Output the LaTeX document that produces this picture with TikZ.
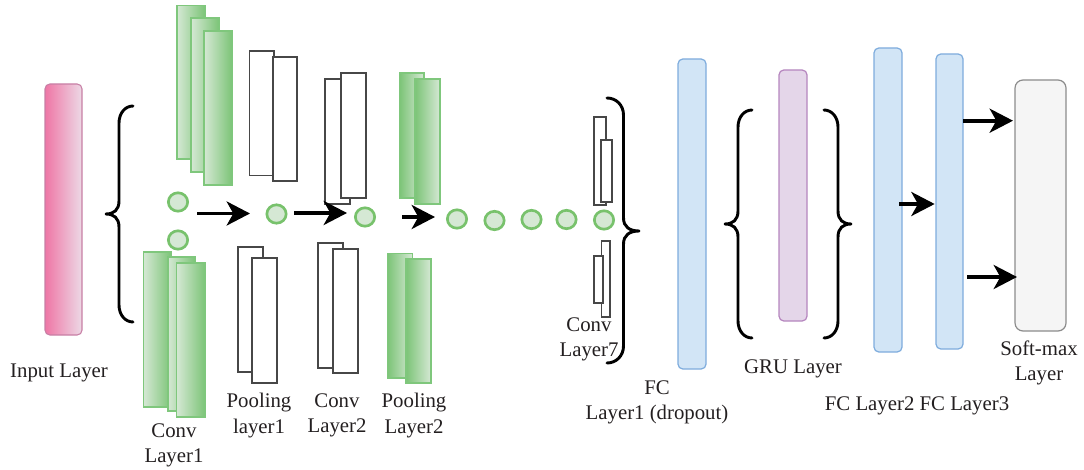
\documentclass[tikz,border=0pt]{standalone}
\usepackage{fontspec}
\setmainfont{Liberation Serif}
\usetikzlibrary{arrows.meta,shapes.geometric}
\definecolor{txt}{HTML}{231F20}
\definecolor{grL}{HTML}{D5E8D4}
\definecolor{grD}{HTML}{7CC477}
\definecolor{grE}{HTML}{7FC77C}
\definecolor{pink1}{HTML}{EE76A5}
\definecolor{pink2}{HTML}{EDD9E6}
\definecolor{pinkbd}{HTML}{C77FA5}
\definecolor{bluebd}{HTML}{7EACDD}
\definecolor{bluefl}{HTML}{D2E5F6}
\definecolor{purbd}{HTML}{B585BE}
\definecolor{purfl}{HTML}{E4D6E9}
\definecolor{dotbd}{HTML}{78C26C}
\tikzset{
  blockbase/.style={rectangle,inner sep=0pt,outer sep=0pt},
  green1/.style={blockbase,draw=grE,line width=1.1pt,left color=grL,right color=grD},
  green2/.style={blockbase,draw=grE,line width=1.1pt,left color=grD,right color=grL},
  plainbox/.style={blockbase,draw=black!72,line width=1.2pt,fill=white},
  thinbox/.style={blockbase,draw=black!72,line width=1pt,fill=white},
  inputbox/.style={blockbase,rounded corners=3.6pt,draw=pinkbd,line width=.8pt,left color=pink1,right color=pink2},
  fcbox/.style={blockbase,rounded corners=3.6pt,draw=bluebd,line width=.9pt,fill=bluefl},
  grubox/.style={blockbase,rounded corners=3.6pt,draw=purbd,line width=.9pt,fill=purfl},
  softbox/.style={blockbase,rounded corners=6pt,draw=black!45,line width=.9pt,fill=black!4},
  dot/.style={ellipse,inner sep=0pt,outer sep=0pt,draw=dotbd,line width=2pt,fill=grL,minimum width=14.5pt,minimum height=13.8pt},
  bigarrow/.style={draw=black,line width=2.8pt,-{Stealth[length=17.5pt,width=18pt,inset=5pt]}},
  brc/.style={draw=black,line width=2.2pt,line cap=round,line join=round},
  lbl/.style={inner sep=0pt,outer sep=0pt,text=txt,align=center,font=\fontsize{15.6}{19}\selectfont},
}
% [style]{name}{x1}{y1}{x2}{y2}
\newcommand{\blk}[6][]{%
  \pgfmathsetmacro{\blkw}{(#5-#3)*0.75}%
  \pgfmathsetmacro{\blkh}{(#6-#4)*0.75}%
  \node[#1,minimum width=\blkw pt,minimum height=\blkh pt] (#2) at ({(#3+#5)/2},{(#4+#6)/2}) {};}
% {tipx}{tipy}{spinex}{endx}{topy}{boty}
\newcommand{\bracepath}[6]{%
  \draw[brc] (#4,#5) .. controls ({#3+(#4-(#3))*0.45},#5) and ({#3},{#5+7}) .. ({#3},{#5+17})
    -- ({#3},{#2-13}) .. controls ({#3},{#2-4}) and ({#3+(#1-(#3))*0.4},#2) .. (#1,#2)
    .. controls ({#3+(#1-(#3))*0.4},#2) and ({#3},{#2+4}) .. ({#3},{#2+13})
    -- ({#3},{#6-17}) .. controls ({#3},{#6-7}) and ({#3+(#4-(#3))*0.45},#6) .. (#4,#6);}
\begin{document}
\begin{tikzpicture}[x=0.75pt,y=-0.75pt]
\useasboundingbox (0,0) rectangle (1084,470);
% input
\blk[inputbox]{input}{45}{84}{82}{335}
\bracepath{106}{214}{119}{133}{106}{322}
% conv layer 1
\blk[green1]{ca}{177}{5.5}{205}{159}
\blk[green1]{cb}{191}{18}{219}{172}
\blk[green1]{cc}{204}{31}{232}{185}
\blk[green1]{cd}{143.5}{252}{171}{407}
\blk[green1]{ce}{168}{257}{195}{411}
\blk[green1]{cf}{176.5}{263}{205}{417}
% pooling 1
\blk[plainbox]{pa}{249.5}{51}{274}{175.5}
\blk[plainbox]{pb}{273}{57}{297}{181}
\blk[plainbox]{pc}{238}{247}{263}{372}
\blk[plainbox]{pd}{252}{258}{277}{383}
% conv 2
\blk[plainbox]{qa}{325}{79}{350}{204}
\blk[plainbox]{qb}{341}{73}{366}{198}
\blk[plainbox]{qc}{318}{243}{343}{368}
\blk[plainbox]{qd}{333}{249}{358}{373}
% pooling 2
\blk[green2]{ra}{399.5}{73}{424}{198}
\blk[green2]{rb}{415}{79}{440}{204}
\blk[green2]{rc}{387.5}{253.5}{412.5}{378}
\blk[green2]{rd}{406}{259}{431}{383}
% conv 7
\blk[thinbox]{sa}{594}{117}{606}{205}
\blk[thinbox]{sb}{601}{140}{612}{202}
\blk[thinbox]{sc}{601.5}{241}{610}{317}
\blk[thinbox]{sd}{594}{256}{603}{303}
\bracepath{639}{231}{623.5}{607}{98}{363}
% dots
\node[dot] (d1) at (178,202) {};
\node[dot] (d2) at (178,240) {};
\node[dot] (d3) at (276.5,214) {};
\node[dot] (d4) at (365,217) {};
\node[dot] (d5) at (457,219) {};
\node[dot] (d6) at (494.5,220.5) {};
\node[dot] (d7) at (531.5,219.5) {};
\node[dot] (d8) at (566.5,219.5) {};
\node[dot] (d9) at (604,220) {};
% right part
\blk[fcbox]{fca}{678}{59}{706}{369}
\bracepath{725}{224}{738}{752}{110}{338}
\blk[grubox]{gru}{779}{70}{807}{321}
\bracepath{851}{224}{838}{824}{110}{338}
\blk[fcbox]{fcb}{874}{48}{902}{352}
\blk[fcbox]{fcc}{936}{54}{963}{349}
\blk[softbox]{soft}{1015}{80}{1066}{331}
% arrows
\coordinate (a1s) at (197,213.5);
\coordinate (a1e) at (250,213.5);
\coordinate (a2s) at (294,213);
\coordinate (a2e) at (347,213);
\coordinate (a3s) at (402,217);
\coordinate (a3e) at (435,217);
\coordinate (a4s) at (899,204);
\coordinate (a6s) at (967,277);
\draw[bigarrow] (a1s) -- (a1e);
\draw[bigarrow] (a2s) -- (a2e);
\draw[bigarrow] (a3s) -- (a3e);
\draw[bigarrow] (a4s) -- ([xshift=-1pt]fcc.west |- a4s);
\draw[bigarrow] (fcc.east |- 0,120.7) -- ([xshift=-1.5pt]soft.west |- 0,120.7);
\draw[bigarrow] (a6s) -- ([xshift=1.5pt]soft.west |- a6s);
% labels
\node[lbl] (tinput) at (59,372.5) {Input Layer};
\node[lbl] (tconva) at (174,445.5) {Conv\\Layer1};
\node[lbl] (tpoola) at (259,415.5) {Pooling\\layer1};
\node[lbl] (tconvb) at (337,415.5) {Conv\\Layer2};
\node[lbl] (tpoolb) at (414,415.5) {Pooling\\Layer2};
\node[lbl] (tconvg) at (589,339.5) {Conv\\Layer7};
\node[lbl] (tfca) at (657,402.5) {FC\\Layer1 (dropout)};
\node[lbl] (tgru) at (793,369) {GRU Layer};
\node[lbl] (tfcb) at (917,406) {FC Layer2 FC Layer3};
\node[lbl] (tsoft) at (1039,363) {Soft-max\\Layer};
\end{tikzpicture}
\end{document}
